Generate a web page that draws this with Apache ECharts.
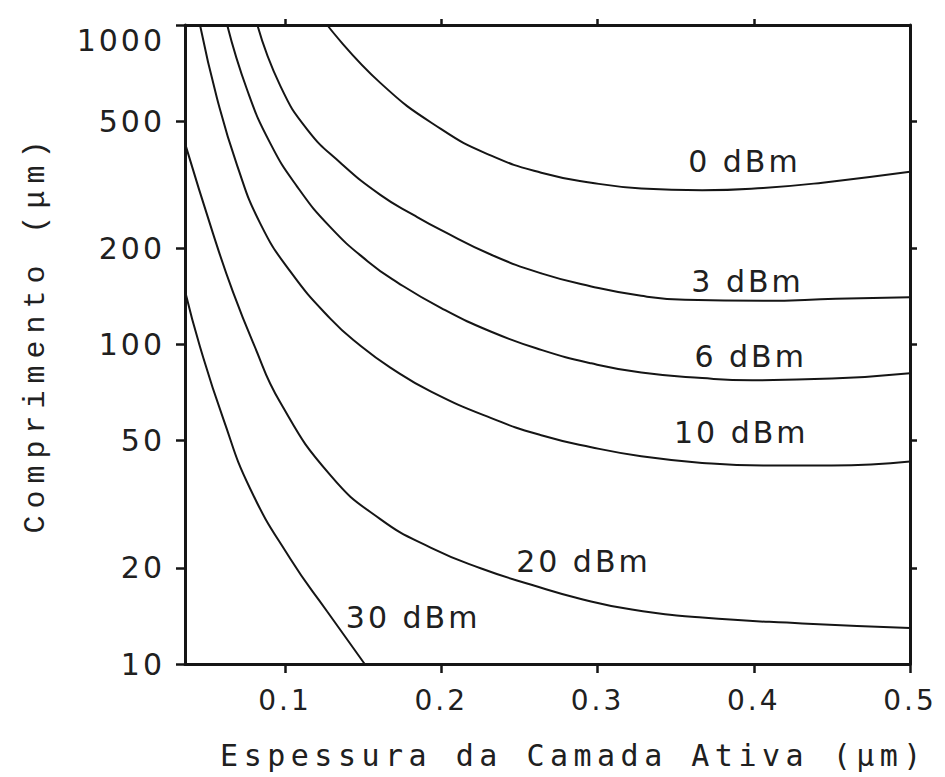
<!DOCTYPE html>
<html>
<head>
<meta charset="utf-8">
<script src="https://cdn.jsdelivr.net/npm/echarts@6/dist/echarts.min.js"></script>
<style>
  html, body { margin: 0; padding: 0; background: #ffffff; }
  #chart { width: 945px; height: 777px; }
  /* spaced-out drafting lettering */
  #chart text { letter-spacing: 3px; }
  #chart text[style*="Liberation Mono"] { letter-spacing: 7px; }
  #chart text[style*="DejaVu Sans Mono"] { letter-spacing: 5.5px; }
</style>
</head>
<body>
<div id="chart"></div>
<script>
// Axis ticks
const xTickValues = [0.1, 0.2, 0.3, 0.4, 0.5];
const yTickValues = [10, 20, 50, 100, 200, 500, 1000];

// Curve names (output power)
const curveNames = ['0 dBm', '3 dBm', '6 dBm', '10 dBm', '20 dBm', '30 dBm'];

// [active layer thickness (µm), length (µm)]
const curve0dBm = [[0.127, 1000], [0.161, 659], [0.2, 472], [0.232, 390], [0.264, 345], [0.296, 321],
  [0.328, 308], [0.367, 304], [0.406, 309], [0.444, 321], [0.5, 347]];
const curve3dBm = [[0.0823, 1000], [0.097, 645], [0.1144, 470], [0.1356, 370], [0.161, 294], [0.1825, 254],
  [0.2, 228], [0.232, 191], [0.264, 167], [0.296, 152], [0.328, 142], [0.356, 138], [0.406, 137],
  [0.4525, 139], [0.5, 140.6]];
const curve6dBm = [[0.063, 1000], [0.0758, 626], [0.0906, 426], [0.108, 311], [0.129, 233], [0.153, 182],
  [0.1723, 156], [0.2, 130], [0.232, 109.6], [0.264, 96.2], [0.296, 87.3], [0.328, 81.7], [0.367, 78.5],
  [0.3989, 77.3], [0.45, 78.2], [0.5, 81.3]];
const curve10dBm = [[0.0456, 1000], [0.0566, 587], [0.0694, 363], [0.0842, 239], [0.1035, 169], [0.129, 120.5],
  [0.1485, 98.9], [0.1677, 84.5], [0.1935, 71.2], [0.232, 58.8], [0.264, 52.0], [0.296, 47.7], [0.328, 44.7],
  [0.367, 42.6], [0.406, 41.8], [0.45, 41.8], [0.5, 43.0]];
const curve20dBm = [[0.036, 426], [0.054, 222], [0.0668, 145.5], [0.0797, 101], [0.097, 65.8], [0.129, 39.0],
  [0.161, 28.4], [0.1935, 23.1], [0.2256, 19.9], [0.2577, 17.7], [0.29, 15.95], [0.322, 14.8], [0.367, 13.97],
  [0.431, 13.4], [0.5, 12.97]];
const curve30dBm = [[0.036, 147], [0.0456, 98.4], [0.0604, 58.7], [0.0778, 35.3], [0.1035, 21.3],
  [0.127, 14.6], [0.151, 10]];

const curves = [curve0dBm, curve3dBm, curve6dBm, curve10dBm, curve20dBm, curve30dBm];

// where each curve's name is written, in data coordinates
const nameAnchors = [[0.394, 373], [0.396, 157], [0.398, 92], [0.392, 53.2], [0.291, 20.9], [0.182, 14.0]];

const INK = '#151515';
const TEXT = '#202020';

const chart = echarts.init(document.getElementById('chart'), null, { renderer: 'svg' });

const baseTick = { show: true, inside: false, length: 9, lineStyle: { color: INK, width: 2.5 } };
const baseLine = { show: true, onZero: false, lineStyle: { color: INK, width: 3 } };

chart.setOption({
  backgroundColor: '#ffffff',
  animation: false,
  grid: { left: 185, right: 35, top: 25, bottom: 113, containLabel: false },
  xAxis: [
    {
      type: 'value', position: 'bottom', min: 0.036, max: 0.5,
      axisLine: baseLine,
      axisTick: Object.assign({}, baseTick, { customValues: xTickValues }),
      axisLabel: {
        customValues: xTickValues, margin: 22, fontSize: 28, color: TEXT,
        fontFamily: 'DejaVu Sans', formatter: v => v.toFixed(1)
      },
      splitLine: { show: false },
      name: 'Espessura da Camada Ativa (μm)',
      nameLocation: 'middle', nameGap: 76,
      nameTextStyle: { fontSize: 30, color: TEXT, fontFamily: 'DejaVu Sans Mono', padding: [0, 0, 0, 52] }
    },
    {
      type: 'value', position: 'top', min: 0.036, max: 0.5,
      axisLine: baseLine,
      axisTick: Object.assign({}, baseTick, { length: 6, customValues: [0.1, 0.2, 0.3, 0.4] }),
      axisLabel: { show: false },
      splitLine: { show: false }
    }
  ],
  yAxis: [
    {
      type: 'log', logBase: 10, position: 'left', min: 10, max: 1000,
      axisLine: baseLine,
      axisTick: Object.assign({}, baseTick, { customValues: yTickValues }),
      axisLabel: {
        customValues: yTickValues, margin: 20, fontSize: 30, color: TEXT,
        fontFamily: 'DejaVu Sans', verticalAlignMaxLabel: 'top',
        formatter: v => String(Math.round(v))
      },
      splitLine: { show: false },
      minorTick: { show: false },
      name: 'Comprimento (μm)',
      nameLocation: 'middle', nameGap: 134, nameRotate: 90,
      nameTextStyle: { fontSize: 30, color: TEXT, fontFamily: 'Liberation Mono', padding: [0, 0, 0, 22] }
    },
    {
      type: 'log', logBase: 10, position: 'right', min: 10, max: 1000,
      axisLine: baseLine,
      axisTick: Object.assign({}, baseTick, { length: 7, customValues: [20, 50, 100, 200, 500] }),
      axisLabel: { show: false },
      splitLine: { show: false }
    }
  ],
  series: curves.map((data, i) => ({
    name: curveNames[i],
    type: 'line',
    xAxisIndex: 0,
    yAxisIndex: 0,
    data: data,
    smooth: 0.5,
    showSymbol: false,
    symbol: 'none',
    clip: true,
    lineStyle: { color: INK, width: 2 },
    markPoint: {
      symbol: 'circle', symbolSize: 1,
      itemStyle: { color: 'rgba(0,0,0,0)' },
      label: {
        show: true, position: 'inside', formatter: curveNames[i],
        fontSize: 30, color: TEXT, fontFamily: 'DejaVu Sans'
      },
      data: [{ coord: nameAnchors[i] }]
    }
  }))
});
</script>
</body>
</html>
